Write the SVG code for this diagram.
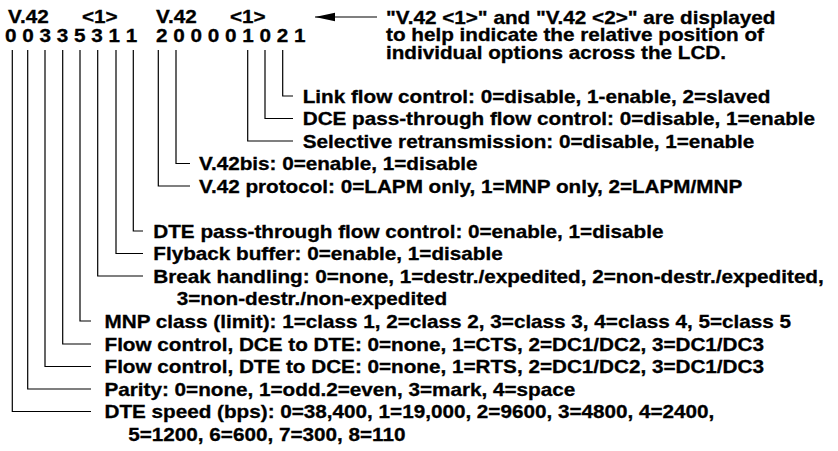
<svg xmlns="http://www.w3.org/2000/svg" width="838" height="451" viewBox="0 0 838 451">
<style>
text{font-family:"Liberation Sans",Arial,Helvetica,sans-serif;font-weight:bold;font-size:18px;fill:#000;stroke:#000;stroke-width:0.3}
.c{fill:none;stroke:#000;stroke-width:1.2}
</style>
<defs>
<marker id="ah" viewBox="0 0 20 10" refX="20" refY="5" markerWidth="20" markerHeight="10" markerUnits="userSpaceOnUse" orient="auto">
<path d="M0,0.8 L20,5 L0,9.2 Z" fill="#000"/>
</marker>
</defs>
<rect width="838" height="451" fill="#fff"/>
<g id="header">
<text transform="translate(8,23) scale(1.15,1)">V.42</text>
<text transform="translate(82,23) scale(1.15,1)">&lt;1&gt;</text>
<text transform="translate(156,23) scale(1.15,1)">V.42</text>
<text transform="translate(230,23) scale(1.15,1)">&lt;1&gt;</text>
<text transform="translate(5,41.5) scale(1.15,1)">0 0 3 3 5 3 1 1</text>
<text transform="translate(156,41.5) scale(1.15,1)">2 0 0 0 0 1 0 2 1</text>
</g>
<g id="note">
<text transform="translate(386,23.5) scale(1.15,1)">"V.42 &lt;1&gt;" and "V.42 &lt;2&gt;" are displayed</text>
<text transform="translate(386,41) scale(1.15,1)">to help indicate the relative position of</text>
<text transform="translate(386,58.5) scale(1.15,1)">individual options across the LCD.</text>
</g>
<g id="connectors">
<line class="c" x1="377" y1="17" x2="315" y2="17" marker-end="url(#ah)"/>
<path class="c" d="M282.7,50 V96 H293"/>
<path class="c" d="M265,50 V118.5 H293"/>
<path class="c" d="M247.7,50 V141 H293"/>
<path class="c" d="M176,50 V163.5 H190"/>
<path class="c" d="M158.3,50 V186 H190"/>
<path class="c" d="M133.3,50 V231 H143"/>
<path class="c" d="M116,50 V253.5 H143"/>
<path class="c" d="M97.7,50 V276 H143"/>
<path class="c" d="M80,50 V321 H91"/>
<path class="c" d="M62.7,50 V344 H91"/>
<path class="c" d="M45,50 V366.5 H91"/>
<path class="c" d="M27.7,50 V389 H91"/>
<path class="c" d="M12.3,50 V411.5 H91"/>
</g>
<g id="link-flow"><text transform="translate(302.7,102.5) scale(1.15,1)">Link flow control: 0=disable, 1-enable, 2=slaved</text></g>
<g id="dce-pass"><text transform="translate(302.7,125) scale(1.15,1)">DCE pass-through flow control: 0=disable, 1=enable</text></g>
<g id="selective"><text transform="translate(302.7,147.5) scale(1.15,1)">Selective retransmission: 0=disable, 1=enable</text></g>
<g id="v42bis"><text transform="translate(199,170) scale(1.15,1)">V.42bis: 0=enable, 1=disable</text></g>
<g id="v42proto"><text transform="translate(199,192.5) scale(1.15,1)">V.42 protocol: 0=LAPM only, 1=MNP only, 2=LAPM/MNP</text></g>
<g id="dte-pass"><text transform="translate(153.3,237.5) scale(1.15,1)">DTE pass-through flow control: 0=enable, 1=disable</text></g>
<g id="flyback"><text transform="translate(153.3,260) scale(1.15,1)">Flyback buffer: 0=enable, 1=disable</text></g>
<g id="break">
<text transform="translate(153.3,282.5) scale(1.15,1)">Break handling: 0=none, 1=destr./expedited, 2=non-destr./expedited,</text>
<text transform="translate(176.7,305) scale(1.15,1)">3=non-destr./non-expedited</text>
</g>
<g id="mnp"><text transform="translate(104.5,327.5) scale(1.15,1)">MNP class (limit): 1=class 1, 2=class 2, 3=class 3, 4=class 4, 5=class 5</text></g>
<g id="flow-dce"><text transform="translate(104.5,350.5) scale(1.15,1)">Flow control, DCE to DTE: 0=none, 1=CTS, 2=DC1/DC2, 3=DC1/DC3</text></g>
<g id="flow-dte"><text transform="translate(104.5,373) scale(1.15,1)">Flow control, DTE to DCE: 0=none, 1=RTS, 2=DC1/DC2, 3=DC1/DC3</text></g>
<g id="parity"><text transform="translate(104.5,395.5) scale(1.15,1)">Parity: 0=none, 1=odd.2=even, 3=mark, 4=space</text></g>
<g id="dte-speed">
<text transform="translate(104.5,418) scale(1.15,1)">DTE speed (bps): 0=38,400, 1=19,000, 2=9600, 3=4800, 4=2400,</text>
<text transform="translate(128.3,440.5) scale(1.15,1)">5=1200, 6=600, 7=300, 8=110</text>
</g>
</svg>
